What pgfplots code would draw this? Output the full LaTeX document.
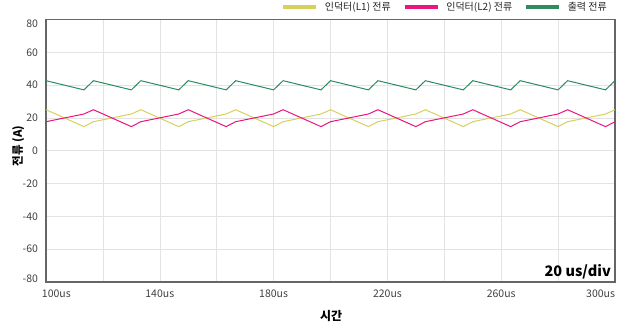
\documentclass[border=0pt]{standalone}
\usepackage{fontspec}
\setmainfont{Noto Sans CJK KR}
\usepackage{pgfplots}
\pgfplotsset{compat=1.18}
\definecolor{cY}{RGB}{214,208,92}
\definecolor{cP}{RGB}{232,22,125}
\definecolor{cG}{RGB}{46,139,96}
\begin{document}
\begin{tikzpicture}[x=1pt,y=1pt]
\useasboundingbox (0,0) rectangle (618,328);
\begin{axis}[
  at={(46pt,46pt)}, anchor=south west,
  width=569pt, height=262.5pt, scale only axis,
  xmin=100, xmax=300, ymin=-80, ymax=80,
  xtick={100,140,...,300},
  xticklabels={\makebox[0pt][l]{\hspace{-4pt}100us},140us,180us,220us,260us,\makebox[0pt][r]{300us}},
  minor xtick={120,160,...,280},
  ytick={-80,-60,...,80},
  yticklabels={\raisebox{3.5pt}[\height][\depth]{-80},-60,-40,-20,0,20,40,60,\raisebox{-4pt}[\height][\depth]{80}},
  grid=both,
  major grid style={black!11, line width=0.6pt},
  minor grid style={black!11, line width=0.6pt},
  major tick length=0pt, minor tick length=0pt,
  axis line style={black!60, line width=1.1pt},
  tick label style={font=\fontsize{10.5}{12}\selectfont, text=black!75},
  yticklabel style={xshift=-4.5pt},
  xticklabel style={yshift=-4pt},
  ylabel={전류 (A)},
  xlabel={시간},
  every axis y label/.style={at={(axis description cs:-0.049,0.518)}, rotate=90, anchor=center, font=\fontsize{11.5}{13}\selectfont\bfseries},
  every axis x label/.style={at={(axis description cs:0.501,-0.13)}, anchor=center, font=\fontsize{12}{14}\selectfont\bfseries},
  legend columns=3,
  legend style={at={(axis description cs:0.986,1.0476)}, anchor=east, draw=none, fill=none, inner sep=0pt,
    font=\fontsize{10}{12}\selectfont, text=black!85,
    nodes={inner sep=0pt},
    /tikz/every odd column/.append style={column sep=7pt},
    /tikz/every even column/.append style={column sep=12pt}},
  legend image code/.code={\draw[line width=3.5pt] (0pt,0pt) -- (33pt,0pt);},
  clip=false,
]
\addplot[cY, line width=1pt] coordinates {
(100,25) (113.33,14.7) (116.67,17.7) (130,22.4) (133.33,25)
(146.67,14.7) (150,17.7) (163.33,22.4) (166.67,25)
(180,14.7) (183.33,17.7) (196.67,22.4) (200,25)
(213.33,14.7) (216.67,17.7) (230,22.4) (233.33,25)
(246.67,14.7) (250,17.7) (263.33,22.4) (266.67,25)
(280,14.7) (283.33,17.7) (296.67,22.4) (300,25)};
\addlegendentry{인덕터(L1) 전류}
\addplot[cP, line width=1pt] coordinates {
(100,17.7) (113.33,22.4) (116.67,25) (130,14.7) (133.33,17.7)
(146.67,22.4) (150,25) (163.33,14.7) (166.67,17.7)
(180,22.4) (183.33,25) (196.67,14.7) (200,17.7)
(213.33,22.4) (216.67,25) (230,14.7) (233.33,17.7)
(246.67,22.4) (250,25) (263.33,14.7) (266.67,17.7)
(280,22.4) (283.33,25) (296.67,14.7) (300,17.7)};
\addlegendentry{인덕터(L2) 전류}
\addplot[cG, line width=1pt] coordinates {
(100,42.7) (113.33,37.1) (116.67,42.7) (130,37.1) (133.33,42.7)
(146.67,37.1) (150,42.7) (163.33,37.1) (166.67,42.7)
(180,37.1) (183.33,42.7) (196.67,37.1) (200,42.7)
(213.33,37.1) (216.67,42.7) (230,37.1) (233.33,42.7)
(246.67,37.1) (250,42.7) (263.33,37.1) (266.67,42.7)
(280,37.1) (283.33,42.7) (296.67,37.1) (300,42.7)};
\addlegendentry{출력 전류}
\node[anchor=east, font=\fontsize{14.5}{16}\selectfont\bfseries, inner sep=0pt] at (axis description cs:0.993,0.038) {20 us/div};
\end{axis}
\end{tikzpicture}
\end{document}
